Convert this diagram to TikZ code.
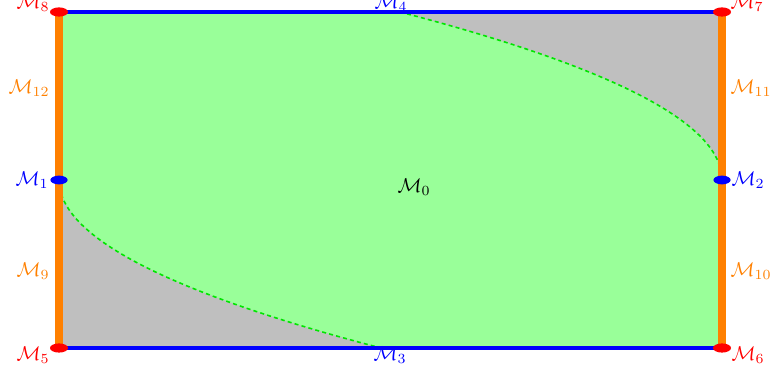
\documentclass[tikz,border=0pt]{standalone}
\usetikzlibrary{shapes.geometric}
\begin{document}
\begin{tikzpicture}[x=0.5pt,y=-0.5pt,
  lbl/.style={inner sep=0pt,font=\normalsize},
  cornerdot/.style={ellipse,fill=red,minimum width=9pt,minimum height=4.6pt,inner sep=0pt},
  middot/.style={ellipse,fill=blue,minimum width=8.6pt,minimum height=4.4pt,inner sep=0pt},
  hedge/.style={blue,line width=1.8pt},
  vedge/.style={orange,line width=3.6pt},
  bound/.style={green!90!black,line width=0.8pt,dash pattern=on 2pt off 1.6pt}]
\useasboundingbox (0,0) rectangle (770,373);
\definecolor{orange}{RGB}{255,128,0}
% corners
\coordinate (c8) at (59,12);
\coordinate (c7) at (722,12);
\coordinate (c5) at (59,348);
\coordinate (c6) at (722,348);
\coordinate (m1) at (59,180);
\coordinate (m2) at (722,180);
\coordinate (t) at (400,12);
\coordinate (b) at (381,348);
% fills
\fill[green!40] (c8) rectangle (c6);
\fill[gray!50] (t) .. controls (614.7,68) and (722,124) .. (m2) -- (c7) -- cycle;
\fill[gray!50] (m1) .. controls (59,236) and (166.3,292) .. (b) -- (c5) -- cycle;
\draw[bound] (t) .. controls (614.7,68) and (722,124) .. (m2);
\draw[bound] (m1) .. controls (59,236) and (166.3,292) .. (b);
% edges
\draw[vedge] (c8) -- (c5);
\draw[vedge] (c7) -- (c6);
\draw[hedge] (c8) -- (c7);
\draw[hedge] (c5) -- (c6);
% dots
\node[cornerdot] (d8) at (c8) {};
\node[cornerdot] (d7) at (c7) {};
\node[cornerdot] (d5) at (c5) {};
\node[cornerdot] (d6) at (c6) {};
\node[middot] (d1) at (m1) {};
\node[middot] (d2) at (m2) {};
% labels
\node[lbl,red] (l8) at (33,3) {$\mathcal{M}_{8}$};
\node[lbl,red] (l7) at (747,3) {$\mathcal{M}_{7}$};
\node[lbl,red] (l5) at (33,355) {$\mathcal{M}_{5}$};
\node[lbl,red] (l6) at (748,355) {$\mathcal{M}_{6}$};
\node[lbl,blue] (l1) at (32,180) {$\mathcal{M}_{1}$};
\node[lbl,blue] (l2) at (748,180) {$\mathcal{M}_{2}$};
\node[lbl,blue] (l4) at (391,3) {$\mathcal{M}_{4}$};
\node[lbl,blue] (l3) at (390,355) {$\mathcal{M}_{3}$};
\node[lbl,orange] (l12) at (29,88) {$\mathcal{M}_{12}$};
\node[lbl,orange] (l11) at (751,88) {$\mathcal{M}_{11}$};
\node[lbl,orange] (l9) at (33,271) {$\mathcal{M}_{9}$};
\node[lbl,orange] (l10) at (751,271) {$\mathcal{M}_{10}$};
\node[lbl] (l0) at (414,187) {$\mathcal{M}_{0}$};
\end{tikzpicture}
\end{document}
